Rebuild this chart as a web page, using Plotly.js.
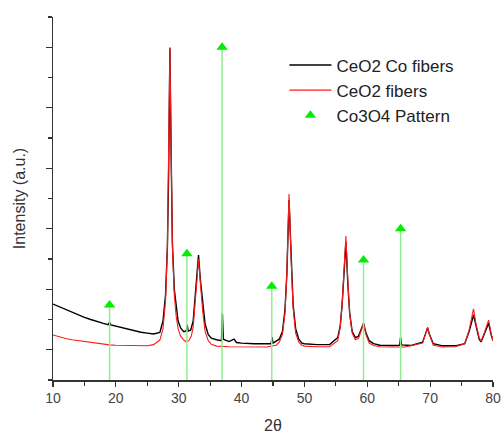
<!DOCTYPE html>
<html>
<head>
<meta charset="utf-8">
<script src="https://cdn.plot.ly/plotly-3.0.1.min.js"></script>
<style>html,body{margin:0;padding:0;background:#fff;}#chart{width:502px;height:435px;}</style>
</head>
<body>
<div id="chart"></div>
<script>
// CeO2 Co fibers (black)
var coX = [10,11,12,13,14,15,16,17,18,18.8,19.0,19.2,20,21,22,23,24,25,26,27,27.5,27.9,28.2,28.4,28.6,28.8,29.0,29.3,29.6,29.9,30.3,30.8,31.2,31.35,31.5,31.9,32.3,32.6,32.9,33.15,33.45,33.8,34.2,34.7,35.2,36,36.8,36.95,37.1,38,38.8,39.2,40,42,44,44.7,44.85,45.0,46.0,46.5,46.9,47.2,47.55,47.9,48.2,48.6,49.1,49.6,50,52,54,55.3,55.7,56.0,56.3,56.6,56.9,57.2,57.6,58.1,58.6,59.0,59.4,59.8,60.3,61,62,64,65.15,65.3,65.45,67,68.8,69.3,69.6,69.9,70.5,72,74,75.5,76.2,76.9,77.3,77.8,78.1,78.6,79.3,79.7,80];
var coY = [2.51,2.42,2.33,2.24,2.15,2.07,2.0,1.93,1.87,1.83,1.92,1.82,1.78,1.72,1.67,1.62,1.58,1.55,1.52,1.57,1.95,2.8,4.4,6.9,10.97,7.4,4.5,3.0,2.35,1.95,1.72,1.6,1.62,1.82,1.62,1.65,1.95,2.65,3.5,4.13,3.3,2.5,1.85,1.5,1.38,1.33,1.3,2.2,1.35,1.27,1.35,1.24,1.22,1.2,1.19,1.2,1.42,1.22,1.35,1.6,2.3,3.5,5.95,3.8,2.5,1.7,1.35,1.22,1.2,1.17,1.17,1.4,1.8,2.5,3.5,4.56,3.2,2.2,1.6,1.4,1.45,1.65,1.88,1.55,1.3,1.2,1.15,1.14,1.15,1.42,1.16,1.14,1.25,1.55,1.72,1.5,1.2,1.13,1.13,1.2,1.6,2.15,1.75,1.35,1.26,1.5,1.88,1.5,1.3];
// CeO2 fibers (red)
var ceX = [10,11,12,13,14,15,16,17,18,19,20,22,24,25,26,27,27.5,27.9,28.2,28.4,28.6,28.8,29.0,29.3,29.6,29.9,30.3,30.8,31.2,31.6,32.0,32.3,32.6,32.9,33.15,33.45,33.8,34.2,34.7,35.2,36,38,40,42,44,45.5,46.0,46.5,46.9,47.2,47.55,47.9,48.2,48.6,49.1,49.6,50,52,54,55.3,55.7,56.0,56.3,56.6,56.9,57.2,57.6,58.1,58.6,59.0,59.4,59.8,60.3,61,62,64,66,68.8,69.3,69.6,69.9,70.5,72,74,75.5,76.2,76.9,77.3,77.8,78.1,78.6,79.3,79.7,80];
var ceY = [1.49,1.42,1.37,1.33,1.3,1.27,1.24,1.21,1.19,1.16,1.15,1.14,1.13,1.13,1.17,1.32,1.7,2.6,4.4,7.0,11.0,7.5,4.4,2.8,2.1,1.7,1.45,1.32,1.26,1.3,1.45,1.75,2.4,3.3,4.0,3.2,2.3,1.6,1.3,1.18,1.12,1.1,1.1,1.09,1.09,1.15,1.25,1.5,2.2,3.5,6.15,3.9,2.4,1.55,1.25,1.15,1.12,1.1,1.1,1.3,1.75,2.5,3.6,4.76,3.3,2.2,1.55,1.33,1.38,1.6,1.85,1.5,1.22,1.14,1.1,1.09,1.09,1.22,1.55,1.75,1.5,1.15,1.09,1.1,1.2,1.65,2.35,1.85,1.4,1.28,1.55,1.98,1.55,1.3];
// Co3O4 reference pattern
var patX = [19.0, 31.3, 36.9, 44.8, 59.4, 65.3];
var patY = [2.48, 4.17, 11.0, 3.1, 3.97, 5.0];
var xTitle = '2θ';
var yTitle = 'Intensity (a.u.)';

var font = 'Liberation Sans, Arial, sans-serif';
var traces = [
  {x: coX, y: coY, mode: 'lines', name: 'CeO2 Co fibers', line: {color: '#000000', width: 1.4}},
  {x: ceX, y: ceY, mode: 'lines', name: 'CeO2 fibers', line: {color: '#ff1a1a', width: 1.1}},
  {x: patX, y: patY, mode: 'markers', name: 'Co3O4 Pattern',
   marker: {symbol: 'triangle-up', color: '#00ee00', size: 10},
   error_y: {type: 'data', symmetric: false, array: patY.map(function(){return 0;}), arrayminus: patY, color: '#90ee90', thickness: 1.5, width: 0}}
];
var layout = {
  width: 502, height: 435,
  margin: {l: 53, r: 9, t: 17, b: 55},
  paper_bgcolor: '#fff', plot_bgcolor: '#fff',
  showlegend: true,
  legend: {x: 0.526, y: 0.916, xanchor: 'left', yanchor: 'top', bgcolor: 'rgba(0,0,0,0)', itemwidth: 42, font: {family: font, size: 17, color: '#222'}, tracegroupgap: 0},
  xaxis: {range: [10, 80], tick0: 10, dtick: 10, ticks: 'outside', ticklen: 5, tickwidth: 1.2, tickcolor: '#333',
    showline: true, linecolor: '#333', linewidth: 1.5, showgrid: false, zeroline: false,
    minor: {dtick: 5, ticks: 'outside', ticklen: 4, tickcolor: '#333', showgrid: false},
    tickfont: {family: font, size: 14, color: '#444'}},
  yaxis: {range: [0, 12], tick0: 1, dtick: 2, ticks: 'outside', ticklen: 6, tickwidth: 1.2, tickcolor: '#333',
    showline: true, linecolor: '#333', linewidth: 1.5, showgrid: false, zeroline: false, showticklabels: false,
    minor: {dtick: 1, ticks: 'outside', ticklen: 4, tickcolor: '#333', showgrid: false},
    title: {text: yTitle, font: {family: font, size: 16, color: '#333'}, standoff: 16}},
  annotations: [{text: xTitle, xref: 'paper', yref: 'paper', x: 0.5, y: -0.126, xanchor: 'center', yanchor: 'middle',
    showarrow: false, font: {family: font, size: 16, color: '#333'}}]
};
Plotly.newPlot('chart', traces, layout, {displayModeBar: false, staticPlot: true});
</script>
</body>
</html>
